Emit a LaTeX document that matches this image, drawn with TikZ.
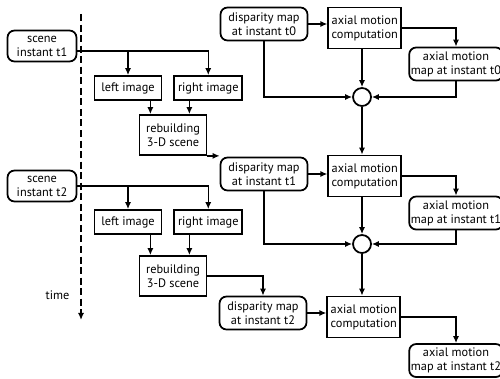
\documentclass[tikz,border=0pt]{standalone}
\usepackage{fontspec}
\setmainfont{PT Sans}
\usetikzlibrary{positioning,arrows.meta,calc}

\begin{document}
\begin{tikzpicture}[>={Latex[length=4pt,width=3.5pt]},line width=0.8pt,
    font=\fontsize{7}{8}\selectfont,
    sbox/.style={draw,line width=1pt,rounded corners=4pt,align=center,inner sep=1pt,
                minimum width=1.74cm,minimum height=0.66cm},
    pbox/.style={draw,line width=1pt,align=center,inner sep=1pt,minimum height=0.48cm},
    sumcirc/.style={draw,circle,line width=1pt,minimum size=0.36cm,inner sep=0pt}]
    \useasboundingbox (0,0) rectangle (10,7.56);
    % time axis
    \coordinate (ttop) at (1.62,7.28);
    \coordinate (tbot) at (1.62,1.16);
    \draw[->,dash pattern=on 4pt off 2pt] (ttop) -- (tbot);
    \node[left=0.1cm of tbot,yshift=0.5cm] (time) {time};
    % stereo branch, instant t1
    \node[sbox,minimum width=1.38cm,minimum height=0.62cm] (scene1) at (0.84,6.64) {scene\\instant t1};
    \node[pbox,minimum width=1.34cm] (left1) at (2.56,5.80) {left image};
    \node[pbox,minimum width=1.36cm,right=0.22cm of left1] (right1) {right image};
    \node[pbox,minimum width=1.34cm,minimum height=0.80cm] (rebuild1) at (3.46,4.86) {rebuilding\\3-D scene};
    % stereo branch, instant t2
    \node[sbox,minimum width=1.38cm,minimum height=0.62cm] (scene2) at (0.84,3.84) {scene\\instant t2};
    \node[pbox,minimum width=1.34cm] (left2) at (2.56,3.12) {left image};
    \node[pbox,minimum width=1.36cm,right=0.22cm of left2] (right2) {right image};
    \node[pbox,minimum width=1.34cm,minimum height=0.80cm] (rebuild2) at (3.46,2.04) {rebuilding\\3-D scene};
    % motion chain
    \node[sbox] (disp0) at (5.28,7.08) {disparity map\\at instant t0};
    \node[pbox,minimum width=1.46cm,minimum height=0.82cm,right=0.38cm of disp0,yshift=-0.08cm] (comp0) {axial motion\\computation};
    \node[sbox] (map0) at (9.12,6.28) {axial motion\\map at instant t0};
    \node[sumcirc] (circ0) at (7.24,5.62) {};
    \node[sbox] (disp1) at (5.28,4.08) {disparity map\\at instant t1};
    \node[pbox,minimum width=1.46cm,minimum height=0.82cm,right=0.38cm of disp1,yshift=-0.04cm] (comp1) {axial motion\\computation};
    \node[sbox] (map1) at (9.12,3.30) {axial motion\\map at instant t1};
    \node[sumcirc] (circ1) at (7.24,2.68) {};
    \node[sbox] (disp2) at (5.26,1.30) {disparity map\\at instant t2};
    \node[pbox,minimum width=1.46cm,minimum height=0.82cm,right=0.38cm of disp2,yshift=-0.08cm] (comp2) {axial motion\\computation};
    \node[sbox] (map2) at (9.12,0.35) {axial motion\\map at instant t2};
    % arrows, t1
    \draw[->] ([yshift=-0.1cm]scene1.east) -| (left1.north); \draw[->] ([yshift=-0.1cm]scene1.east) -| (right1.north);
    \draw[->] ([xshift=-0.24cm]left1.south east) -- ([xshift=-0.24cm]left1.south east |- rebuild1.north);
    \draw[->] ([xshift=0.32cm]right1.south west) -- ([xshift=0.32cm]right1.south west |- rebuild1.north);
    \draw[->] (rebuild1.south east) -- (rebuild1.south east -| disp1.west);
    % arrows, t2
    \draw[->] (scene2.east) -| (left2.north); \draw[->] (scene2.east) -| (right2.north);
    \draw[->] ([xshift=-0.24cm]left2.south east) -- ([xshift=-0.24cm]left2.south east |- rebuild2.north);
    \draw[->] ([xshift=0.32cm]right2.south west) -- ([xshift=0.32cm]right2.south west |- rebuild2.north);
    \draw[->] (rebuild2.east) -| (disp2.north);
    % arrows, motion chain
    \draw[->] (disp0.east) -- (disp0.east -| comp0.west); \draw[->] (comp0.east) -| (map0.north);
    \draw[->] (comp0.south -| circ0.north) -- (circ0.north);
    \draw[->] (disp0.south) |- (circ0.west); \draw[->] (map0.south) |- (circ0.east);
    \draw[->] (circ0.south) -- (circ0.south |- comp1.north);
    \draw[->] (disp1.east) -- (disp1.east -| comp1.west); \draw[->] (comp1.east) -| (map1.north);
    \draw[->] (comp1.south -| circ1.north) -- (circ1.north);
    \draw[->] (disp1.south) |- (circ1.west); \draw[->] (map1.south) |- (circ1.east);
    \draw[->] (circ1.south) -- (circ1.south |- comp2.north);
    \draw[->] (disp2.east) -- (disp2.east -| comp2.west); \draw[->] (comp2.east) -| (map2.north);
  \end{tikzpicture}
\end{document}
